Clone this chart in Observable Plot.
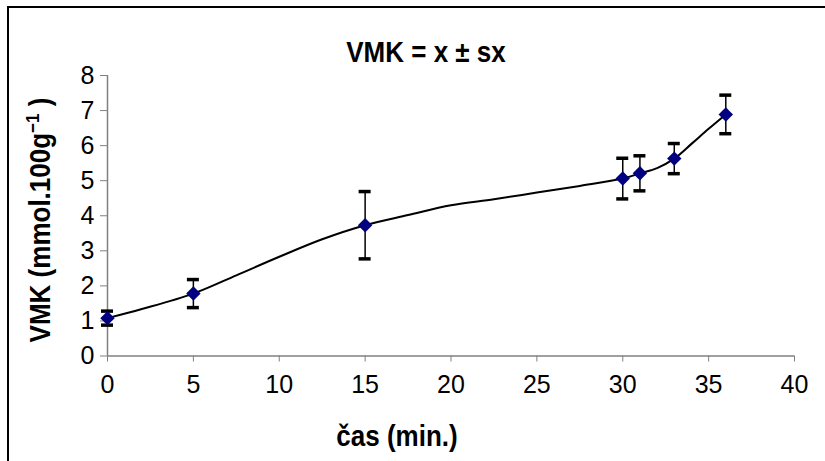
<!DOCTYPE html>
<html><head><meta charset="utf-8">
<script src="https://cdn.jsdelivr.net/npm/d3@7"></script>
<script src="https://cdn.jsdelivr.net/npm/@observablehq/plot@0.6"></script>
<style>
body{margin:0;background:#fff;}
#wrap{position:relative;width:825px;height:461px;overflow:hidden;font-family:"Liberation Sans",Arial,sans-serif;background:#fff;}
#frame{position:absolute;left:7px;top:6px;width:900px;height:600px;border-left:2.5px solid #000;border-top:2.5px solid #000;}
#chart{position:absolute;left:0;top:0;}
#chart svg g[aria-label="x-axis tick label"] text, #chart svg g[aria-label="y-axis tick label"] text {font-size:25px;}
.t{position:absolute;font-weight:bold;white-space:nowrap;color:#000;font-size:26px;line-height:1;}
#title{left:426px;top:52px;transform:translate(-50%,-50%) scaleY(1.1);}
#xt{left:397px;top:436px;transform:translate(-50%,-50%) scaleY(1.1);}
#yt{left:40px;top:220px;transform:translate(-50%,-50%) rotate(-90deg) scaleY(1.1);}
#yt sup{font-size:17px;vertical-align:10px;line-height:0;}
</style></head><body>
<div id="wrap"><div id="frame"></div><div id="chart"></div>
<div class="t" id="title">VMK = x ± sx</div>
<div class="t" id="xt">čas (min.)</div>
<div class="t" id="yt">VMK (mmol.100g<sup>−1</sup> )</div>
</div>
<script>
// measured points (time, mean, standard deviation)
const times = [0, 5, 15, 30, 31, 33, 36];
const means = [1.08, 1.78, 3.73, 5.06, 5.21, 5.63, 6.89];
const sds   = [0.2, 0.4, 0.96, 0.58, 0.5, 0.43, 0.55];
// smoothed curve
const curveX = [0, 2, 5, 7.5, 10, 12.5, 15, 17.5, 20, 22.5, 25, 27.5, 30, 31, 32, 33, 34, 35, 36];
const curveY = [1.08, 1.34, 1.78, 2.3, 2.83, 3.33, 3.73, 4.02, 4.3, 4.47, 4.66, 4.85, 5.06, 5.21, 5.36, 5.63, 6.05, 6.48, 6.89];
const xTicks = [0, 5, 10, 15, 20, 25, 30, 35, 40];
const yTicks = [0, 1, 2, 3, 4, 5, 6, 7, 8];

const pts = times.map((t, i) => ({x: t, y: means[i], lo: means[i] - sds[i], hi: means[i] + sds[i]}));
const curve = curveX.map((x, i) => ({x, y: curveY[i]}));

const chart = Plot.plot({
  width: 825, height: 461,
  marginLeft: 107, marginRight: 31, marginTop: 75, marginBottom: 105.5,
  style: {background: "transparent", fontFamily: '"Liberation Sans", Arial, sans-serif', fontSize: "25px", color: "#000", overflow: "visible"},
  x: {domain: [0, 40]},
  y: {domain: [0, 8]},
  marks: [
    Plot.axisX({ticks: xTicks, tickSize: 6, tickPadding: 13, stroke: "#808080", fill: "#000", fontSize: 25, label: null, ariaLabel: "x-axis"}),
    Plot.axisY({ticks: yTicks, tickSize: 7, tickPadding: 6, stroke: "#808080", fill: "#000", fontSize: 25, label: null, ariaLabel: "y-axis"}),
    Plot.ruleY([0], {stroke: "#808080", strokeWidth: 1.5}),
    Plot.ruleX([0], {stroke: "#808080", strokeWidth: 1.5}),
    Plot.line(curve, {x: "x", y: "y", curve: "catmull-rom", stroke: "#000", strokeWidth: 2}),
    Plot.ruleX(pts, {x: "x", y1: "lo", y2: "hi", stroke: "#000", strokeWidth: 1.5}),
    Plot.ruleY(pts, {x1: "x", x2: "x", y: "hi", insetLeft: -6, insetRight: -6, stroke: "#000", strokeWidth: 3.5}),
    Plot.ruleY(pts, {x1: "x", x2: "x", y: "lo", insetLeft: -6, insetRight: -6, stroke: "#000", strokeWidth: 3.5}),
    Plot.dot(pts, {x: "x", y: "y", symbol: "diamond2", r: 6.5, fill: "#000080", stroke: "none"})
  ]
});
chart.querySelectorAll("text").forEach(t => t.setAttribute("font-size", "25"));
chart.querySelectorAll("g").forEach(g => { if (g.getAttribute("font-size")) g.setAttribute("font-size", "25"); });
document.getElementById("chart").appendChild(chart);
</script>
</body></html>
